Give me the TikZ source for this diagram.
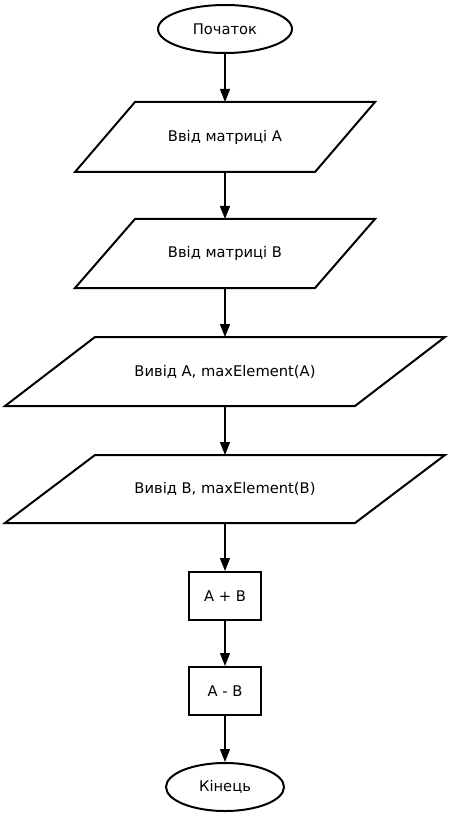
\documentclass[tikz,border=0pt]{standalone}
\usepackage{fontspec}
\setmainfont{DejaVu Sans}
\usetikzlibrary{shapes.geometric,arrows.meta}
\begin{document}
\begin{tikzpicture}[x=1pt,y=-1pt,
  shapeline/.style={line width=2pt,line join=miter},
  lbl/.style={font=\fontsize{14.7}{16}\selectfont,inner sep=0pt},
  arr/.style={line width=1.3pt,-{Triangle[length=13pt,width=10pt]}},
  term/.style={ellipse,draw,line width=2pt,inner sep=0pt,font=\fontsize{14.7}{16}\selectfont},
  procbox/.style={rectangle,draw,line width=2pt,inner sep=0pt,minimum width=72pt,minimum height=48pt,font=\fontsize{14.7}{16}\selectfont}]
\useasboundingbox (0,0) rectangle (450,818);
% start
\node[term,minimum width=134pt,minimum height=48pt] (start) at (225,29) {Початок};
% parallelogram 1
\draw[shapeline] (135,102) -- (375,102) -- (315,172) -- (75,172) -- cycle;
\coordinate (p1t) at (225,102); \coordinate (p1b) at (225,172);
\node[lbl] (p1) at (225,137) {Ввід матриці А};
% parallelogram 2
\draw[shapeline] (135,219) -- (375,219) -- (315,288) -- (75,288) -- cycle;
\coordinate (p2t) at (225,219); \coordinate (p2b) at (225,288);
\node[lbl] (p2) at (225,253.5) {Ввід матриці В};
% parallelogram 3
\draw[shapeline] (95,337) -- (445,337) -- (355,406) -- (5,406) -- cycle;
\coordinate (p3t) at (225,337); \coordinate (p3b) at (225,406);
\node[lbl] (p3) at (225,371.5) {Вивід A, maxElement(A)};
% parallelogram 4
\draw[shapeline] (95,455) -- (445,455) -- (355,523) -- (5,523) -- cycle;
\coordinate (p4t) at (225,455); \coordinate (p4b) at (225,523);
\node[lbl] (p4) at (225,489) {Вивід B, maxElement(B)};
% boxes
\node[procbox] (sum) at (225,596) {A + B};
\node[procbox] (dif) at (225,691) {A - B};
% end
\node[term,minimum width=118pt,minimum height=48pt] (end) at (225,787) {Кінець};
% connectors
\draw[arr] (start.south) -- (p1t);
\draw[arr] (p1b) -- (p2t);
\draw[arr] (p2b) -- (p3t);
\draw[arr] (p3b) -- (p4t);
\draw[arr] (p4b) -- (sum.north);
\draw[arr] (sum.south) -- (dif.north);
\draw[arr] (dif.south) -- (end.north);
\end{tikzpicture}
\end{document}
